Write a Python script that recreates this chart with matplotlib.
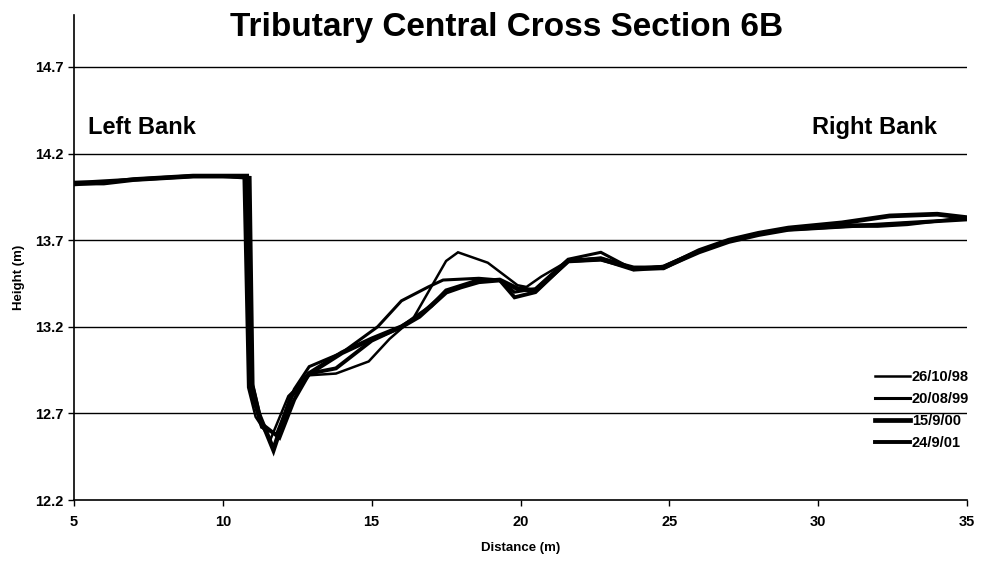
import matplotlib.pyplot as plt
import numpy as np

plt.rcParams['font.family'] = ['Liberation Sans', 'DejaVu Sans']
plt.rcParams['font.weight'] = 'bold'

# survey dates and line widths
labels = ['26/10/98', '20/08/99', '15/9/00', '24/9/01']

x_9810 = [5, 6, 7, 8, 9, 10, 10.7, 10.85, 11.1, 11.6, 12.2, 12.9, 13.8, 14.9, 15.6, 16.4,
          16.9, 17.5, 17.9, 18.9, 19.9, 20.2, 20.7, 21.6, 22.7, 23.8, 24.8, 26, 27, 28,
          29, 30, 31, 32, 33, 34, 35]
y_9810 = [14.03, 14.03, 14.05, 14.06, 14.07, 14.07, 14.06, 12.85, 12.68, 12.55, 12.80, 12.92,
          12.93, 13.00, 13.13, 13.25, 13.40, 13.58, 13.63, 13.57, 13.44, 13.43, 13.49, 13.58,
          13.60, 13.54, 13.55, 13.64, 13.70, 13.74, 13.77, 13.78, 13.79, 13.79, 13.80, 13.81,
          13.83]

x_9908 = [5, 6, 7, 8, 9, 10, 10.75, 10.9, 11.3, 11.8, 12.4, 12.9, 14.0, 15.2, 16.0, 16.9,
          17.4, 18.6, 19.3, 19.8, 20.5, 21.6, 22.7, 23.8, 24.8, 26, 27, 28, 29, 30, 31, 32,
          33, 34, 35]
y_9908 = [14.02, 14.03, 14.05, 14.06, 14.07, 14.07, 14.07, 12.85, 12.62, 12.58, 12.84, 12.97,
          13.05, 13.20, 13.35, 13.43, 13.47, 13.48, 13.47, 13.40, 13.42, 13.59, 13.63, 13.53,
          13.55, 13.64, 13.70, 13.74, 13.76, 13.77, 13.78, 13.78, 13.79, 13.81, 13.83]

x_0009 = [5, 6, 7, 8, 9, 10, 10.8, 10.95, 11.2, 11.7, 12.3, 12.9, 14.0, 15.0, 16.0, 16.6,
          17.5, 18.0, 18.6, 19.3, 19.9, 20.5, 21.6, 22.7, 23.8, 24.8, 26, 27, 28, 29, 30.8,
          32.4, 34, 35]
y_0009 = [14.03, 14.03, 14.05, 14.06, 14.07, 14.07, 14.07, 12.88, 12.70, 12.49, 12.80, 12.93,
          13.05, 13.13, 13.20, 13.26, 13.40, 13.43, 13.46, 13.47, 13.42, 13.41, 13.58, 13.59,
          13.54, 13.54, 13.64, 13.70, 13.74, 13.77, 13.80, 13.84, 13.85, 13.83]

x_0109 = [5, 6, 7, 8, 9, 10, 10.9, 11.0, 11.3, 11.9, 12.4, 12.9, 13.8, 15.0, 16.0, 17.0,
          17.5, 18.6, 19.3, 19.8, 20.5, 21.6, 22.7, 23.8, 24.8, 26, 27, 28, 29, 30, 31, 32,
          33, 34, 35]
y_0109 = [14.03, 14.04, 14.05, 14.06, 14.07, 14.07, 14.06, 12.86, 12.64, 12.56, 12.78, 12.93,
          12.96, 13.12, 13.20, 13.32, 13.41, 13.47, 13.47, 13.37, 13.40, 13.58, 13.59, 13.53,
          13.54, 13.63, 13.69, 13.73, 13.76, 13.77, 13.78, 13.79, 13.80, 13.81, 13.82]

xs = [x_9810, x_9908, x_0009, x_0109]
ys = [y_9810, y_9908, y_0009, y_0109]
widths = [1.8, 2.2, 3.4, 2.8]

yticks = [12.2, 12.7, 13.2, 13.7, 14.2, 14.7]
xticks = [5, 10, 15, 20, 25, 30, 35]

fig = plt.figure(figsize=(9.82, 5.62), dpi=100)
ax = fig.add_axes([0.0754, 0.1103, 0.9093, 0.863])

for y in yticks[1:]:
    ax.axhline(y, color='black', lw=1.0, zorder=1)

for xx, yy, lab, w in zip(xs, ys, labels, widths):
    ax.plot(xx, yy, color='black', lw=w, label=lab, solid_joinstyle='miter', zorder=3)

ax.set_xlim(5, 35)
ax.set_ylim(12.2, 15.0)
ax.set_xticks(xticks)
ax.set_yticks(yticks)
ax.set_yticklabels(['%.1f' % v for v in yticks])
ax.tick_params(axis='both', labelsize=10.5, length=4, width=1, color='black')
ax.tick_params(axis='x', pad=7)
for s in ['top', 'right']:
    ax.spines[s].set_visible(False)
for s in ['left', 'bottom']:
    ax.spines[s].set_linewidth(1.2)

ax.set_xlabel('Distance (m)', fontsize=9.5, fontweight='bold', labelpad=9)
ax.set_ylabel('Height (m)', fontsize=9.5, fontweight='bold', labelpad=5)
ax.yaxis.set_label_coords(-0.055, 0.46)

ax.text(5.47, 14.35, 'Left Bank', fontsize=17, fontweight='bold', va='center', ha='left')
ax.text(33.99, 14.35, 'Right Bank', fontsize=17, fontweight='bold', va='center', ha='right')

fig.text(0.516, 0.951, 'Tributary Central Cross Section 6B', fontsize=24, fontweight='bold',
         ha='center', va='center')

leg = ax.legend(loc='lower right', bbox_to_anchor=(1.017, 0.076), frameon=False, fontsize=10.5,
                handlelength=2.4, handletextpad=0.1, labelspacing=0.55)

fig.savefig('out.png', dpi=100)
